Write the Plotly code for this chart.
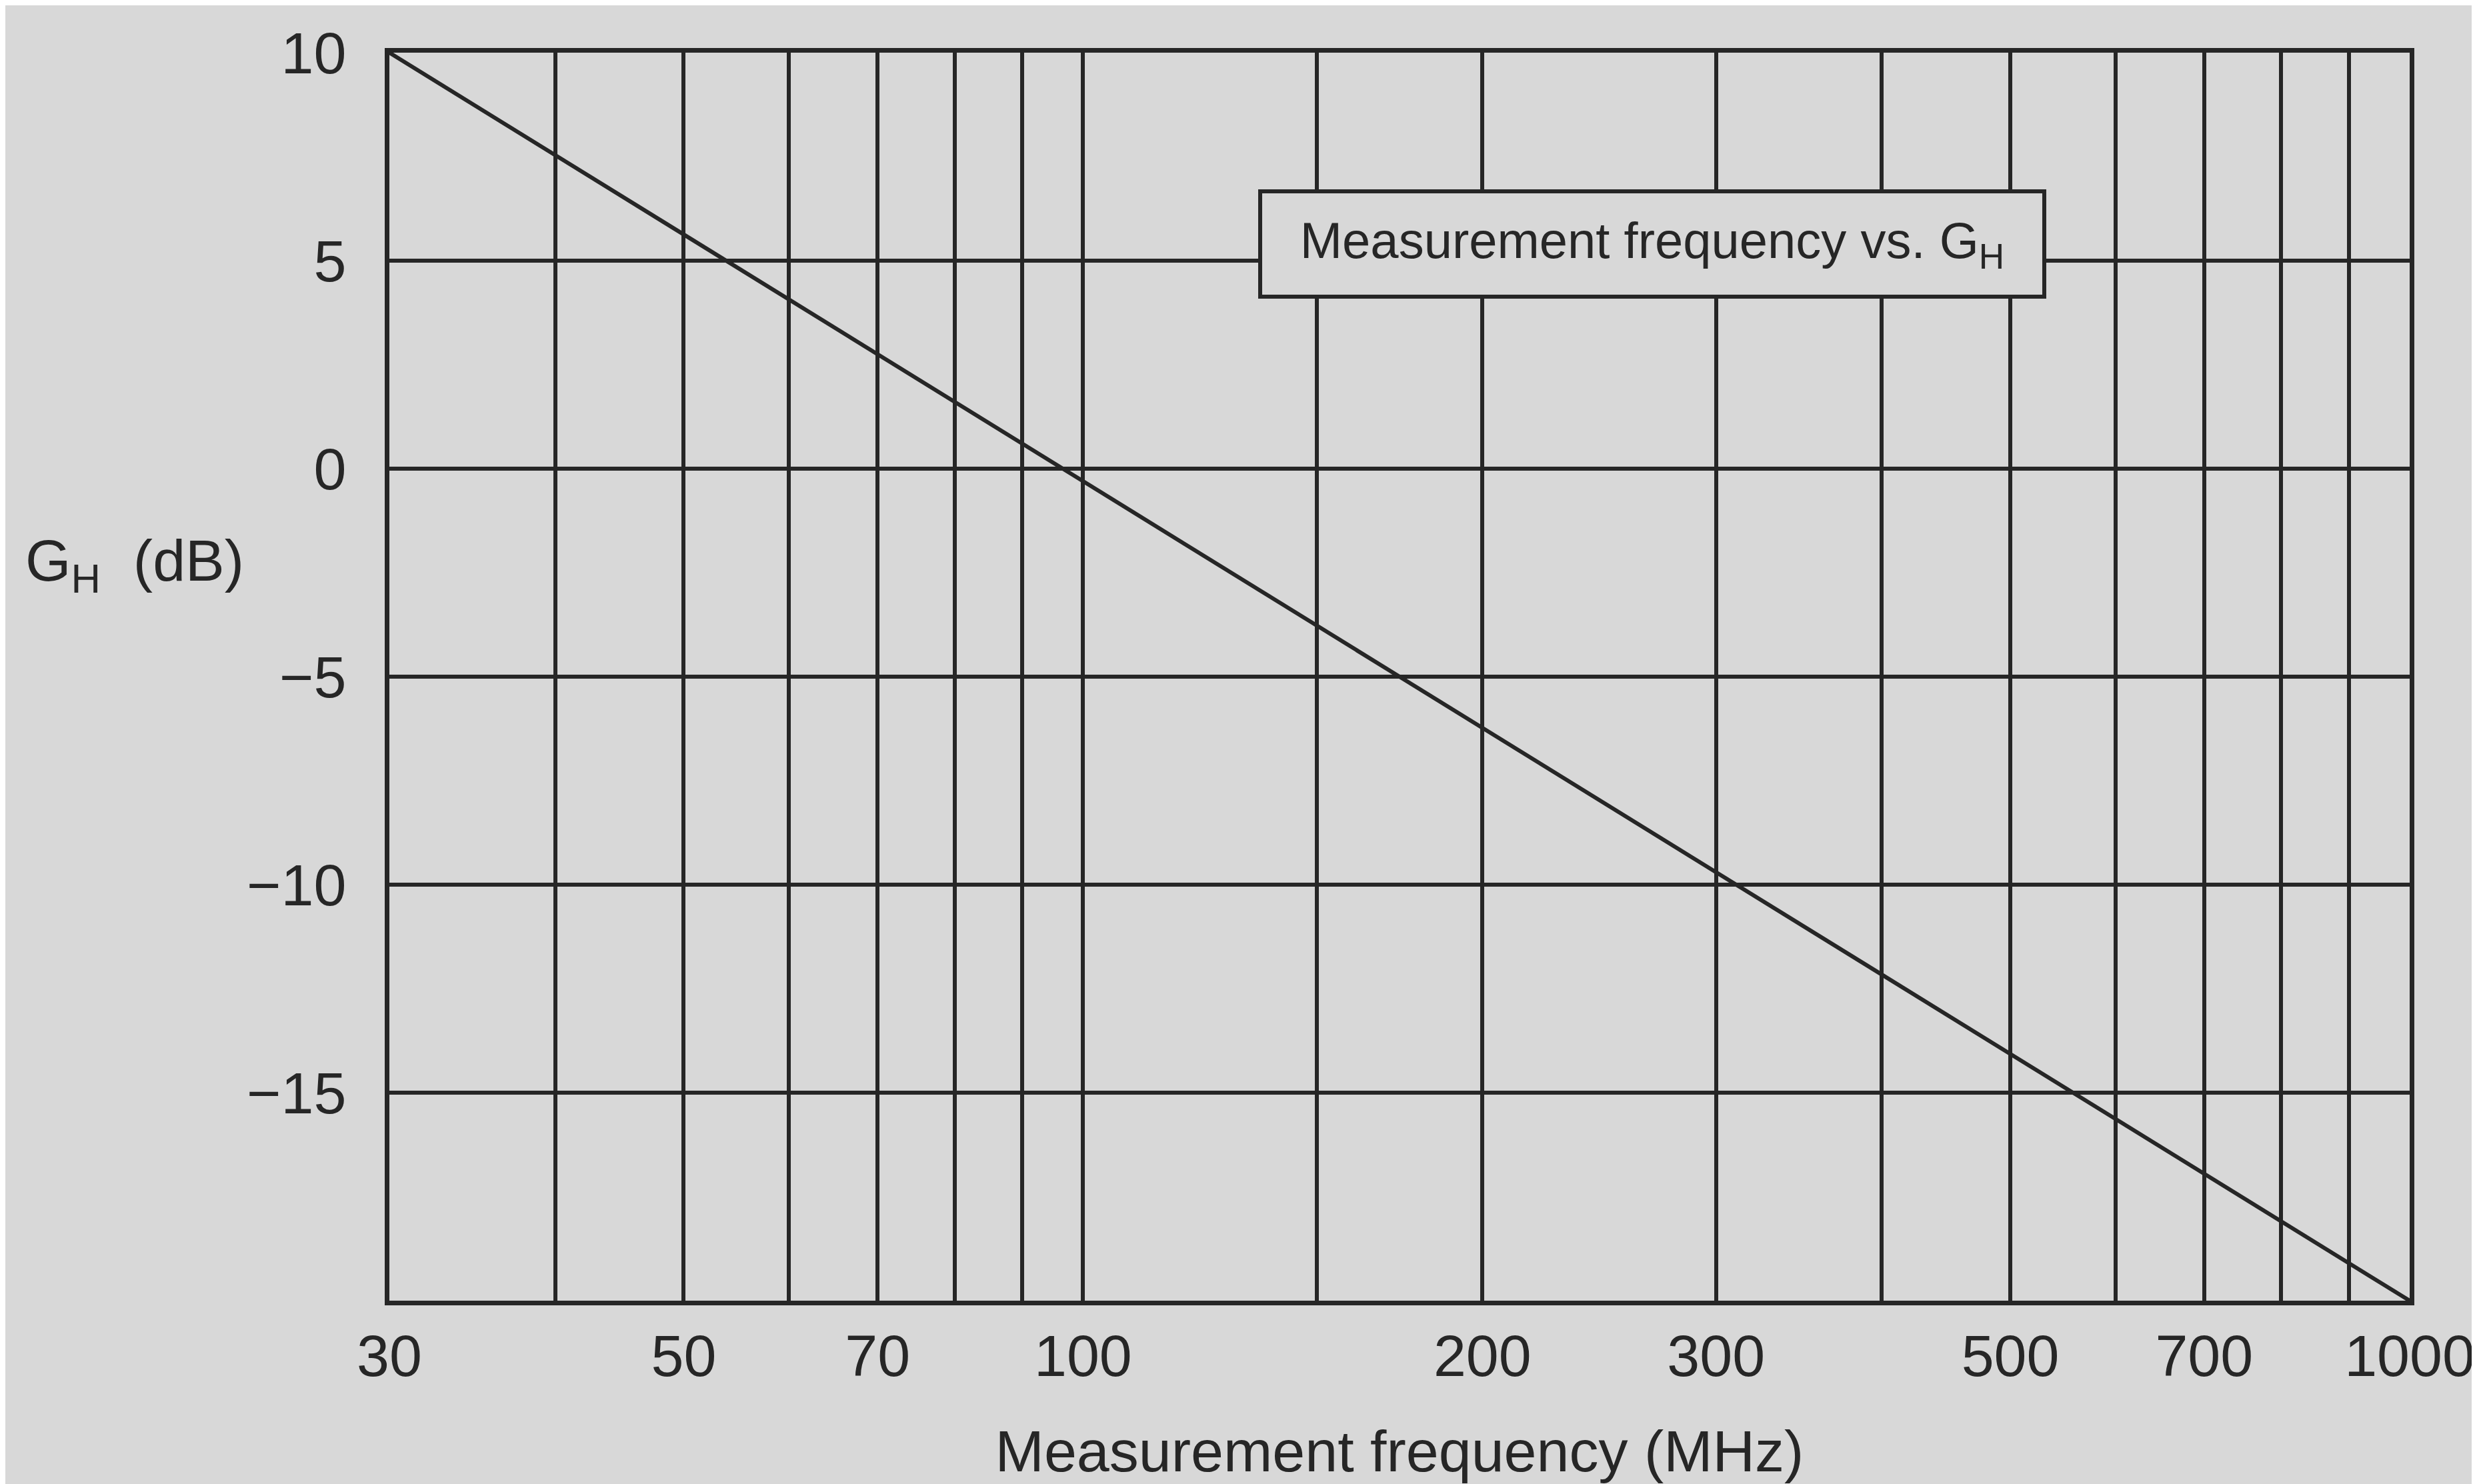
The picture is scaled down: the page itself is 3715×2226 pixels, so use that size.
import plotly.graph_objects as go

# Data
freq_mhz = [30, 100, 300, 1000]
gh_db = [10, -0.3, -9.7, -20]

x_grid_vals = [30, 40, 50, 60, 70, 80, 90, 100, 150, 200, 300, 400, 500, 600, 700, 800, 900, 1000]
x_labels = ["30", "", "50", "", "70", "", "", "100", "", "200", "300", "", "500", "", "700", "", "", "1000"]
y_tick_vals = [-20, -15, -10, -5, 0, 5, 10]
y_tick_text = ["", "\u221215", "\u221210", "\u22125", "0", "5", "10"]

BG = "#d8d8d8"
INK = "#262626"
FONT = "Liberation Sans"

fig = go.Figure()
fig.add_trace(go.Scatter(x=freq_mhz, y=gh_db, mode="lines",
                         line=dict(color=INK, width=6), showlegend=False,
                         hoverinfo="skip"))

fig.update_layout(
    width=3715, height=2226,
    paper_bgcolor=BG, plot_bgcolor=BG,
    margin=dict(l=576, r=109, t=71, b=283),
    font=dict(family=FONT, color=INK),
    showlegend=False,
)

fig.update_xaxes(
    type="log", range=[1.4771212547, 3],
    tickvals=x_grid_vals, ticktext=x_labels,
    tickfont=dict(size=88, family=FONT, color=INK),
    ticks="", ticklabelstandoff=0,
    showgrid=True, gridcolor=INK, gridwidth=6,
    showline=True, linecolor=INK, linewidth=7, mirror=True,
    zeroline=False,
    title=dict(text="Measurement frequency (MHz)", font=dict(size=88, family=FONT, color=INK), standoff=66),
)
fig.update_yaxes(
    range=[-20, 10],
    tickvals=y_tick_vals, ticktext=y_tick_text,
    tickfont=dict(size=88, family=FONT, color=INK),
    ticks="", ticklabelstandoff=40,
    showgrid=True, gridcolor=INK, gridwidth=6,
    showline=True, linecolor=INK, linewidth=7, mirror=True,
    zeroline=False,
)

# Y-axis title (horizontal, left of the axis)
fig.add_annotation(
    text="G<sub>H</sub>  (dB)", xref="paper", yref="y",
    x=-0.181, y=-2.3, xanchor="left", yanchor="middle",
    showarrow=False, font=dict(size=88, family=FONT, color=INK),
)

# Boxed label inside the plot
fig.add_annotation(
    text="Measurement frequency vs. G<sub>H</sub>", xref="x", yref="y",
    x=2.429, y=5.4, xanchor="center", yanchor="middle",
    showarrow=False, font=dict(size=76, family=FONT, color=INK),
    width=1130, height=112, align="center", valign="middle",
    bgcolor=BG, bordercolor=INK, borderwidth=6, borderpad=20,
)

fig.write_html("out.html")
